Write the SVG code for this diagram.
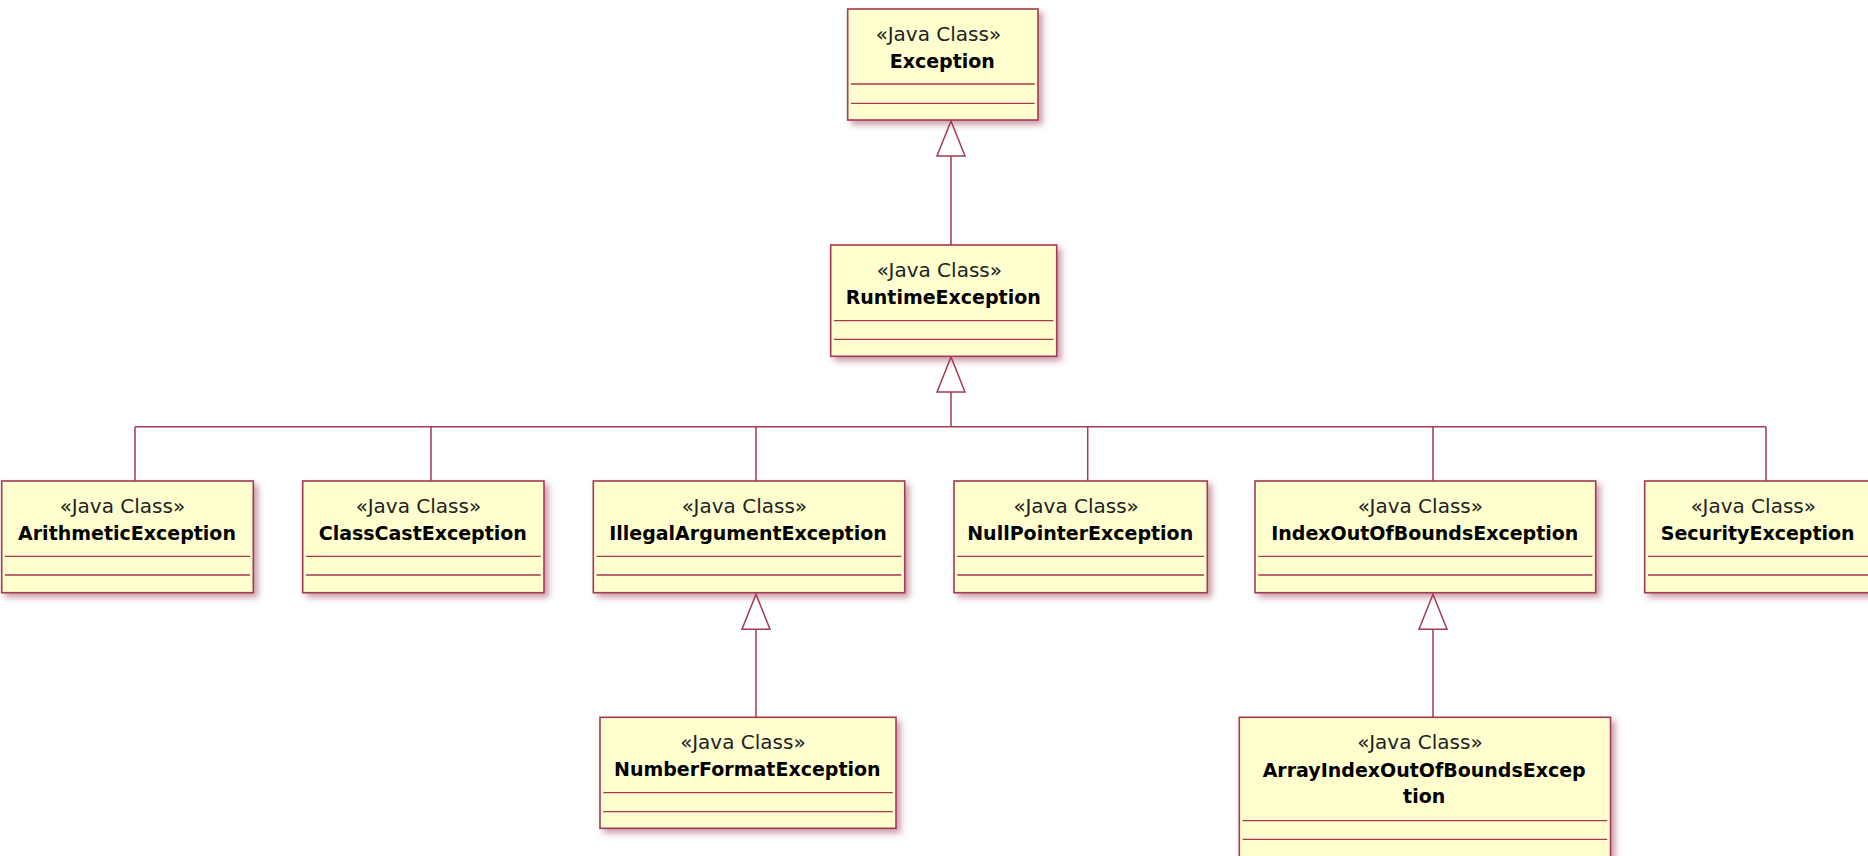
<svg xmlns="http://www.w3.org/2000/svg" width="1868" height="856" viewBox="0 0 1868 856">
<defs>
<filter id="shadow" x="-10%" y="-10%" width="130%" height="140%">
<feGaussianBlur in="SourceAlpha" stdDeviation="3" result="b"/>
<feOffset in="b" dx="4" dy="4" result="o"/>
<feFlood flood-color="#9a3a55" flood-opacity="0.5"/>
<feComposite in2="o" operator="in" result="s"/>
<feMerge><feMergeNode in="s"/><feMergeNode in="SourceGraphic"/></feMerge>
</filter>
<marker id="tri" viewBox="-37 -16 39 32" refX="0" refY="0" markerWidth="39" markerHeight="32" markerUnits="userSpaceOnUse" orient="auto">
<path d="M0,0 L-35,-14 L-35,14 Z" fill="#ffffff" stroke="#A33B52" stroke-width="1.5"/>
</marker>
</defs>
<style>
.box{fill:#FEFECE;stroke:#A33B52;stroke-width:1.6;filter:url(#shadow)}
.div{stroke:#A33B52;stroke-width:1.3}
.st{font-family:"DejaVu Sans",Verdana,sans-serif;font-size:20px;fill:#222;text-anchor:middle}
.nm{font-family:"DejaVu Sans",Verdana,sans-serif;font-size:19px;font-weight:bold;fill:#000;text-anchor:middle}
.ln{fill:none;stroke:#A33B52;stroke-width:1.5}
</style>
<rect width="1868" height="856" fill="#ffffff"/>
<g id="connectors">
<path class="ln" d="M951,245 V121" marker-end="url(#tri)"/>
<path class="ln" d="M951,426.7 V357" marker-end="url(#tri)"/>
<path class="ln" d="M135,426.7 H1766"/>
<path class="ln" d="M135,426.7 V481 M431,426.7 V481 M756,426.7 V481 M1087.7,426.7 V481 M1433,426.7 V481 M1766,426.7 V481"/>
<path class="ln" d="M756,717.3 V594.3" marker-end="url(#tri)"/>
<path class="ln" d="M1433,717.3 V594.3" marker-end="url(#tri)"/>
</g>
<g id="Exception">
<rect class="box" x="847.7" y="9" width="190.3" height="111"/>
<text class="st" x="938.5" y="40.5">«Java Class»</text>
<text class="nm" x="942.3" y="68">Exception</text>
<path class="div" d="M851,84 H1034.7 M851,103.3 H1034.7"/>
</g>
<g id="RuntimeException">
<rect class="box" x="830.7" y="245" width="226" height="111.3"/>
<text class="st" x="939.3" y="276.5">«Java Class»</text>
<text class="nm" x="943.2" y="304">RuntimeException</text>
<path class="div" d="M834,320.7 H1053.4 M834,339.3 H1053.4"/>
</g>
<g id="ArithmeticException">
<rect class="box" x="1.7" y="481" width="251.6" height="111.7"/>
<text class="st" x="122.5" y="512.5">«Java Class»</text>
<text class="nm" x="127" y="540">ArithmeticException</text>
<path class="div" d="M5,556.3 H250 M5,575 H250"/>
</g>
<g id="ClassCastException">
<rect class="box" x="302.7" y="481" width="241.3" height="111.7"/>
<text class="st" x="418.5" y="512.5">«Java Class»</text>
<text class="nm" x="422.8" y="540">ClassCastException</text>
<path class="div" d="M306,556.3 H540.7 M306,575 H540.7"/>
</g>
<g id="IllegalArgumentException">
<rect class="box" x="593.3" y="481" width="311.4" height="111.7"/>
<text class="st" x="744.4" y="512.5">«Java Class»</text>
<text class="nm" x="748" y="540">IllegalArgumentException</text>
<path class="div" d="M596.6,556.3 H901.4 M596.6,575 H901.4"/>
</g>
<g id="NullPointerException">
<rect class="box" x="954" y="481" width="253.3" height="111.7"/>
<text class="st" x="1076.2" y="512.5">«Java Class»</text>
<text class="nm" x="1080.2" y="540">NullPointerException</text>
<path class="div" d="M957.3,556.3 H1204 M957.3,575 H1204"/>
</g>
<g id="IndexOutOfBoundsException">
<rect class="box" x="1255" y="481" width="340.7" height="111.7"/>
<text class="st" x="1420.3" y="512.5">«Java Class»</text>
<text class="nm" x="1424.8" y="540">IndexOutOfBoundsException</text>
<path class="div" d="M1258.3,556.3 H1592.4 M1258.3,575 H1592.4"/>
</g>
<g id="SecurityException">
<rect class="box" x="1644.7" y="481" width="226" height="111.7"/>
<text class="st" x="1753.3" y="512.5">«Java Class»</text>
<text class="nm" x="1757.7" y="540">SecurityException</text>
<path class="div" d="M1648,556.3 H1868 M1648,575 H1868"/>
</g>
<g id="NumberFormatException">
<rect class="box" x="600" y="717.3" width="296" height="111"/>
<text class="st" x="743" y="748.8">«Java Class»</text>
<text class="nm" x="747.3" y="776.3">NumberFormatException</text>
<path class="div" d="M603.3,792.7 H892.7 M603.3,811.7 H892.7"/>
</g>
<g id="ArrayIndexOutOfBoundsException">
<rect class="box" x="1239.3" y="717.3" width="371.2" height="140"/>
<text class="st" x="1420" y="748.8">«Java Class»</text>
<text class="nm" x="1424.2" y="776.5">ArrayIndexOutOfBoundsExcep</text>
<text class="nm" x="1424.2" y="803.3">tion</text>
<path class="div" d="M1242.6,820.7 H1607.2 M1242.6,839.3 H1607.2"/>
</g>
</svg>
